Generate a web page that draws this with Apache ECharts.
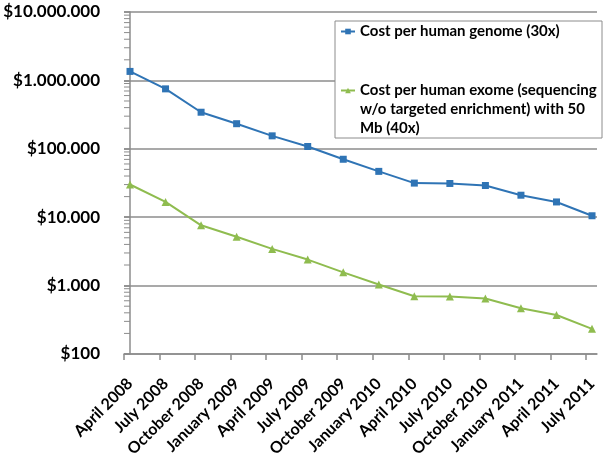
<!DOCTYPE html>
<html>
<head>
<meta charset="utf-8">
<script src="https://cdn.jsdelivr.net/npm/echarts@6/dist/echarts.min.js"></script>
<style>html,body{margin:0;padding:0;background:#fff}#c{width:606px;height:458px}</style>
</head>
<body>
<div id="c"></div>
<script>
var categories = ['April 2008','July 2008','October 2008','January 2009','April 2009','July 2009','October 2009','January 2010','April 2010','July 2010','October 2010','January 2011','April 2011','July 2011'];
var genomeCost = [1352982, 752080, 342502, 232735, 154714, 108065, 70333, 46774, 31512, 31125, 29092, 20963, 16712, 10497];
var exomeCost = [30066, 16713, 7611, 5172, 3438, 2401, 1563, 1039, 700, 692, 646, 466, 371, 233];
var yTickValues = [100, 1000, 10000, 100000, 1000000, 10000000];
var yTickLabels = ['$100', '$1.000', '$10.000', '$100.000', '$1.000.000', '$10.000.000'];
var minorMantissas = [2, 3, 4, 5, 6, 7, 8, 9];
var genomeName = 'Cost per human genome (30x)';
var exomeName = 'Cost per human exome (sequencing w/o targeted enrichment) with 50 Mb (40x)';

var X_OFF = 0.169, X_MIN = -X_OFF, X_MAX = 13.14;
var tickPos = categories.map(function (c, i) { return i - X_OFF; });
var labelPos = categories.map(function (c, i) { return i; });
var minorTicks = [];
yTickValues.slice(0, -1).forEach(function (d) {
  minorMantissas.forEach(function (m) { minorTicks.push([X_MIN, d * m]); });
});
var GRID = '#8c8c8c';
var FONT = 'Lato';

var chart = echarts.init(document.getElementById('c'));
chart.setOption({
  animation: false,
  backgroundColor: '#fff',
  grid: { left: 124, right: 9, top: 12, bottom: 104, outerBoundsMode: 'none', containLabel: false },
  legend: {
    orient: 'vertical', left: 335, top: 21,
    padding: [1, 4, 0, 5], itemGap: 2, itemWidth: 14, itemHeight: 7,
    borderColor: GRID, borderWidth: 1, backgroundColor: '#fff',
    data: [genomeName, exomeName],
    textStyle: { fontFamily: FONT, fontWeight: 'bold', fontSize: 15, lineHeight: 19, color: '#000', width: 238, overflow: 'none' },
    formatter: function (name) {
      if (name === genomeName) return name;
      return '\n\nCost per human exome (sequencing\nw/o targeted enrichment) with 50\nMb (40x)';
    }
  },
  xAxis: {
    type: 'value', min: X_MIN, max: X_MAX,
    axisLine: { show: true, lineStyle: { color: GRID, width: 1.5 } },
    axisTick: { show: true, length: 6, customValues: tickPos, lineStyle: { color: GRID, width: 1.5 } },
    splitLine: { show: false },
    axisLabel: {
      customValues: labelPos, rotate: 45, margin: 27, hideOverlap: false,
      fontFamily: FONT, fontWeight: 'bold', fontSize: 16, color: '#000',
      formatter: function (v) { return categories[Math.round(v)]; }
    }
  },
  yAxis: {
    type: 'log', logBase: 10, min: 100, max: 10000000,
    axisLine: { show: true, lineStyle: { color: GRID, width: 1.5 } },
    axisTick: { show: true, length: 6, lineStyle: { color: GRID, width: 1.5 } },
    splitLine: { show: true, lineStyle: { color: GRID, width: 1.5 } },
    axisLabel: {
      margin: 24, fontFamily: FONT, fontWeight: 'bold', fontSize: 17, color: '#000',
      formatter: function (v) {
        var i = yTickValues.indexOf(Math.round(v));
        return i >= 0 ? yTickLabels[i] : '';
      }
    }
  },
  series: [
    {
      name: 'minor', type: 'custom', silent: true, clip: false, z: 1,
      data: minorTicks,
      renderItem: function (params, api) {
        var p = api.coord([api.value(0), api.value(1)]);
        return { type: 'line', shape: { x1: p[0], y1: p[1], x2: p[0] + 6, y2: p[1] }, style: { stroke: GRID, lineWidth: 1 } };
      }
    },
    {
      name: genomeName, type: 'line', color: '#2f74b5',
      symbol: 'rect', symbolSize: 7, showSymbol: true,
      lineStyle: { width: 2 },
      data: genomeCost.map(function (v, i) { return [i, v]; }), z: 3
    },
    {
      name: exomeName, type: 'line', color: '#8fbc4f',
      symbol: 'triangle', symbolSize: 8, showSymbol: true,
      lineStyle: { width: 2 },
      data: exomeCost.map(function (v, i) { return [i, v]; }), z: 3
    }
  ]
});
</script>
</body>
</html>
